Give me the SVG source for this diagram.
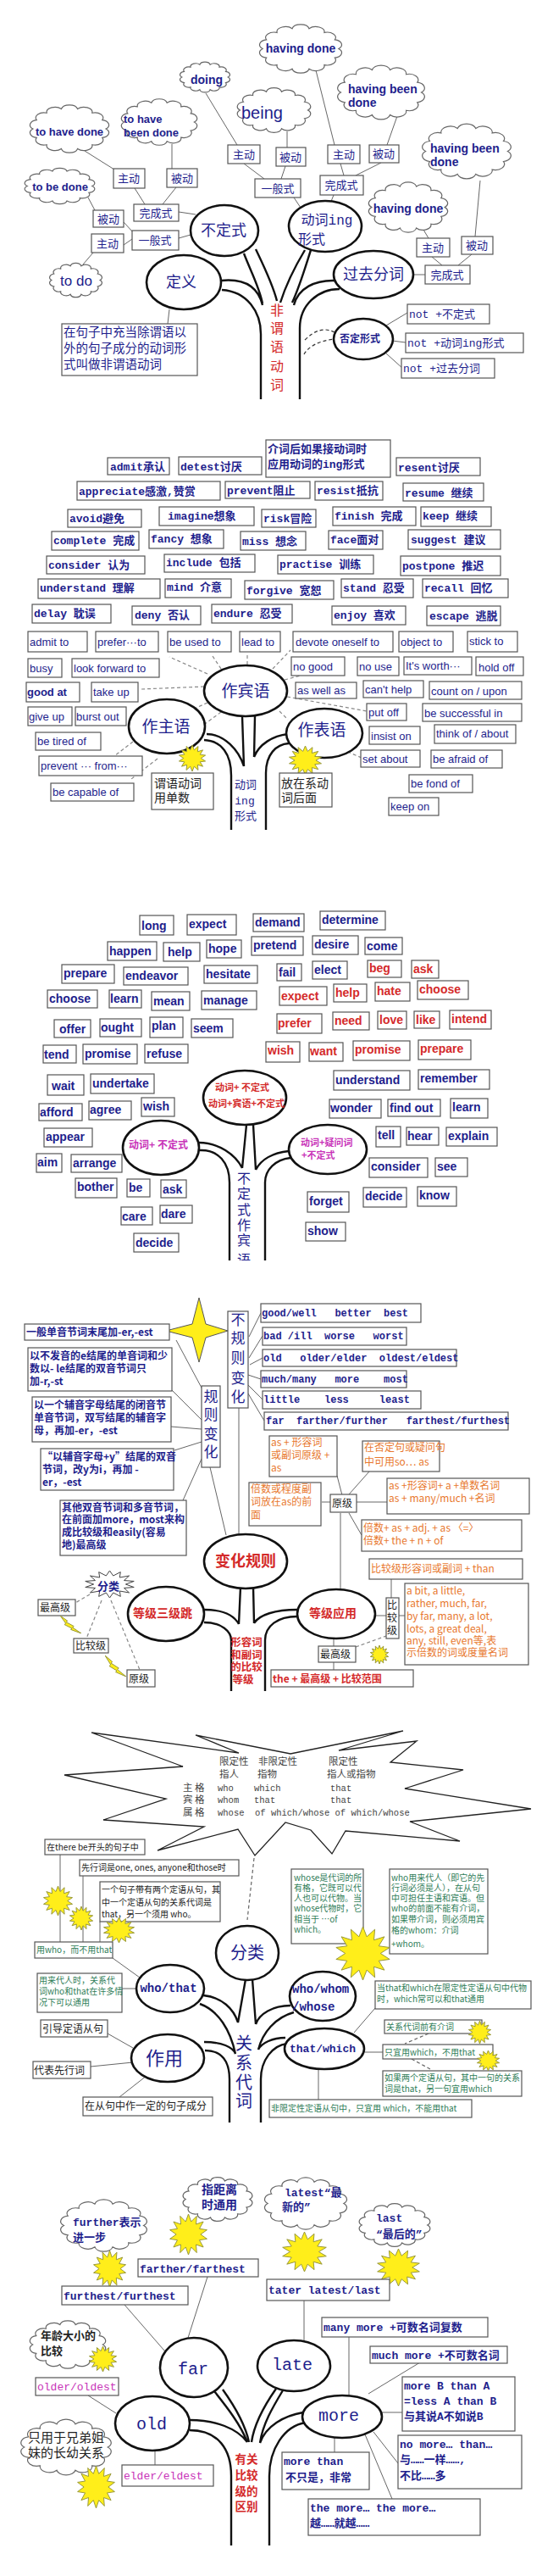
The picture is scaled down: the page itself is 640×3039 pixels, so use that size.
<svg xmlns="http://www.w3.org/2000/svg" xmlns:xlink="http://www.w3.org/1999/xlink" width="640" height="3039" viewBox="0 0 640 3039">
<style>
.bg{fill:#fff}
.bx{fill:#fff;stroke:#555;stroke-width:1.2}
.el{fill:#fff;stroke:#111;stroke-width:2.6}
.tr{fill:none;stroke:#111;stroke-width:2.4}
.ln{fill:none;stroke:#666;stroke-width:1}
.dl{fill:none;stroke:#888;stroke-width:1.2;stroke-dasharray:4 3}
.cl{fill:#fff;stroke:#666;stroke-width:1.2}
.bu{fill:#ffee1a;stroke:#99993a;stroke-width:1}
.wb{fill:#fff;stroke:#444;stroke-width:1}
text{white-space:pre}
.a{font-family:"Liberation Sans",Arial,"Noto Sans CJK SC",sans-serif}
.m{font-family:"Liberation Mono","Noto Sans CJK SC",monospace}
.c{font-family:"Noto Sans CJK SC",sans-serif}
.b{font-weight:bold}
.nv{fill:#1e1e8c}
.rd{fill:#d42a2a}
.or{fill:#e8782e}
.mg{fill:#c833b8}
.gr{fill:#2f7d58}
.bk{fill:#222}
.gy{fill:#444}
.mid{text-anchor:middle}
</style>
<defs>
<symbol id="cloud" viewBox="0 0 100 100" preserveAspectRatio="none">
<path vector-effect="non-scaling-stroke" d="M6,50 A10,10 0 0 1 10.4,32.6 A10,10 0 0 1 22.6,18.7 A10,10 0 0 1 40.2,11 A10,10 0 0 1 59.8,11 A10,10 0 0 1 77.4,18.7 A10,10 0 0 1 89.6,32.6 A10,10 0 0 1 94,50 A10,10 0 0 1 89.6,67.4 A10,10 0 0 1 77.4,81.3 A10,10 0 0 1 59.8,89 A10,10 0 0 1 40.2,89 A10,10 0 0 1 22.6,81.3 A10,10 0 0 1 10.4,67.4 A10,10 0 0 1 6,50 Z"/>
</symbol>
<symbol id="burst" viewBox="0 0 100 100" preserveAspectRatio="none">
<polygon vector-effect="non-scaling-stroke" points="50,0 57.1,18.8 71.7,5 70,25 89.1,18.8 78.8,36.1 98.7,38.9 82,50 98.7,61.1 78.8,63.9 89.1,81.2 70,75 71.7,95 57.1,81.2 50,100 42.9,81.2 28.3,95 30,75 10.9,81.2 21.2,63.9 1.3,61.1 18,50 1.3,38.9 21.2,36.1 10.9,18.8 30,25 28.3,5 42.9,18.8"/>
</symbol>
<symbol id="bolt" viewBox="0 0 100 100" preserveAspectRatio="none">
<polygon vector-effect="non-scaling-stroke" points="0,0 35,30 28,36 65,60 58,66 100,100 50,78 56,72 20,50 27,44"/>
</symbol>
<clipPath id="clip3"><rect x="260" y="1380" width="60" height="107"/></clipPath>
</defs>
<rect class="bg" x="0" y="0" width="640" height="3039"/>

<!-- ============ SECTION 1 ============ -->
<g id="s1-connectors">
<path class="ln" d="M373,83 L395,171 M402,193 L406,207 M469,137 L457,171 M450,192 L420,207 M243,110 L280,171 M339,155 L339,174 M288,193 L312,211 M337,196 L332,211 M347,233 L355,245 M394,230 L390,240 M100,178 L135,200 M203,170 L203,199 M159,222 L171,241 M208,221 L192,241 M211,250 L231,253 M104,233 L112,248 M146,262 L157,274 M146,289 L156,282 M211,281 L225,277 M110,298 L98,312 M500,271 L506,281 M567,213 L561,279 M510,303 L522,313 M557,300 L541,313 M502,324 L488,324 M200,365 L198,382 M456,384 L481,369 M463,402 L479,404 M456,417 L476,435"/>
<path class="tr" d="M308,471 L308,394 C308,368 292,344 262,342 M261,331 C290,328 305,340 310,360 M288,299 C296,320 306,338 310,358 M302,294 C312,315 322,335 327,355 M360,295 C348,315 338,335 331,357 M368,292 C362,310 355,335 345,357 M396,331 C372,330 352,340 347,360 M401,341 C375,341 354,360 354,387 L354,471"/>
<path class="dl" d="M360,401 Q378,383 395,392 M359,418 Q368,403 395,400" style="stroke:#333"/>
</g>
<g id="s1-clouds">
<use href="#cloud" class="cl" x="304" y="27" width="102" height="61"/>
<text class="a b nv mid" x="355" y="62" font-size="14">having done</text>
<use href="#cloud" class="cl" x="396" y="75" width="108" height="68"/>
<text class="a b nv" x="411" y="110" font-size="14">having been</text>
<text class="a b nv" x="411" y="126" font-size="14">done</text>
<use href="#cloud" class="cl" x="211" y="72" width="62" height="38"/>
<text class="a b nv mid" x="244" y="99" font-size="14">doing</text>
<use href="#cloud" class="cl" x="278" y="102" width="91" height="56"/>
<text class="a nv" x="285" y="140" font-size="20">being</text>
<use href="#cloud" class="cl" x="33" y="122" width="98" height="60"/>
<text class="a b nv mid" x="82" y="160" font-size="13">to have done</text>
<use href="#cloud" class="cl" x="141" y="115" width="94" height="58"/>
<text class="a b nv" x="146" y="145" font-size="13">to have</text>
<text class="a b nv" x="146" y="161" font-size="13">been done</text>
<use href="#cloud" class="cl" x="27" y="197" width="87" height="45"/>
<text class="a b nv mid" x="71" y="225" font-size="13">to be done</text>
<use href="#cloud" class="cl" x="57" y="309" width="65" height="43"/>
<text class="a nv mid" x="90" y="337" font-size="17">to do</text>
<use href="#cloud" class="cl" x="496" y="144" width="110" height="69"/>
<text class="a b nv" x="508" y="180" font-size="14">having been</text>
<text class="a b nv" x="508" y="196" font-size="14">done</text>
<use href="#cloud" class="cl" x="433" y="213" width="98" height="63"/>
<text class="a b nv mid" x="482" y="251" font-size="14">having done</text>
</g>
<g id="s1-boxes" class="c nv" font-size="13">
<rect class="bx" x="269" y="171" width="38" height="22"/><text class="mid" x="288" y="187">主动</text>
<rect class="bx" x="326" y="174" width="35" height="22"/><text class="mid" x="343" y="190">被动</text>
<rect class="bx" x="301" y="211" width="54" height="22"/><text class="mid" x="328" y="227">一般式</text>
<rect class="bx" x="387" y="171" width="38" height="22"/><text class="mid" x="406" y="187">主动</text>
<rect class="bx" x="436" y="171" width="35" height="21"/><text class="mid" x="453" y="186">被动</text>
<rect class="bx" x="378" y="207" width="51" height="23"/><text class="mid" x="403" y="223">完成式</text>
<rect class="bx" x="134" y="199" width="37" height="23"/><text class="mid" x="152" y="215">主动</text>
<rect class="bx" x="197" y="199" width="36" height="22"/><text class="mid" x="215" y="215">被动</text>
<rect class="bx" x="158" y="241" width="53" height="20"/><text class="mid" x="184" y="256">完成式</text>
<rect class="bx" x="110" y="248" width="36" height="20"/><text class="mid" x="128" y="263">被动</text>
<rect class="bx" x="108" y="276" width="38" height="22"/><text class="mid" x="127" y="292">主动</text>
<rect class="bx" x="156" y="272" width="55" height="23"/><text class="mid" x="183" y="288">一般式</text>
<rect class="bx" x="492" y="281" width="39" height="22"/><text class="mid" x="511" y="297">主动</text>
<rect class="bx" x="545" y="279" width="37" height="21"/><text class="mid" x="563" y="294">被动</text>
<rect class="bx" x="502" y="313" width="53" height="22"/><text class="mid" x="528" y="329">完成式</text>
</g>
<g id="s1-nodes">
<g id="n-budingshi"><ellipse class="el" cx="265" cy="272" rx="40" ry="30"/><text class="c nv mid" x="264" y="278" font-size="18">不定式</text></g>
<g id="n-ing"><ellipse class="el" cx="384" cy="267" rx="43" ry="30"/><text class="m nv mid" x="386" y="265" font-size="16">动词ing</text><text class="c nv" x="352" y="288" font-size="16">形式</text></g>
<g id="n-dingyi"><ellipse class="el" cx="217" cy="333" rx="44" ry="32"/><text class="c nv mid" x="214" y="339" font-size="18">定义</text></g>
<g id="n-guoqu"><ellipse class="el" cx="441" cy="324" rx="47" ry="28"/><text class="c nv mid" x="441" y="330" font-size="18">过去分词</text></g>
<g id="n-fouding"><ellipse class="el" cx="429" cy="400" rx="35" ry="24"/><text class="c b nv mid" x="425" y="404" font-size="12">否定形式</text></g>
<g id="n-def"><rect class="bx" x="73" y="382" width="160" height="61"/>
<text class="c nv" x="75" y="397" font-size="14.5">在句子中充当除谓语以</text>
<text class="c nv" x="75" y="416" font-size="14.5">外的句子成分的动词形</text>
<text class="c nv" x="75" y="435" font-size="14.5">式叫做非谓语动词</text></g>
<g id="n-not" class="m nv" font-size="13">
<rect class="bx" x="481" y="359" width="97" height="23"/><text x="483" y="375">not +不定式</text>
<rect class="bx" x="479" y="393" width="139" height="23"/><text x="481" y="409">not +动词ing形式</text>
<rect class="bx" x="474" y="423" width="110" height="23"/><text x="476" y="439">not +过去分词</text>
</g>
<g id="t-fwy" class="c rd mid" font-size="16">
<text x="327" y="372">非</text><text x="327" y="393">谓</text><text x="327" y="415">语</text><text x="327" y="438">动</text><text x="327" y="460">词</text>
</g>
</g>

<!-- ============ SECTION 2 ============ -->
<g id="s2-connectors">
<path class="dl" d="M245,795 L200,775 M261,789 L251,774 M292,784 L292,770 M322,789 L343,767 M336,802 L355,797 M241,810 L167,813 M339,822 L433,839 M245,829 L212,844 M261,840 L227,865 M157,875 L135,892 M186,895 L155,919 M330,839 L340,849 M404,884 L427,894"/>
<path class="tr" d="M273,979 L273,915 C273,890 262,874 241,873 M244,866 C265,866 282,885 288,904 M286,845 L288,904 M301,845 L300,893 M300,893 C306,878 322,868 340,866 M314,979 L314,912 C314,890 326,878 341,877"/>
</g>
<g id="s2-list1" class="m b nv" font-size="13">
<rect class="bx" x="127" y="540" width="73" height="20"/><text x="130" y="555">admit承认</text>
<rect class="bx" x="211" y="539" width="98" height="21"/><text x="213" y="555">detest讨厌</text>
<rect class="bx" x="314" y="519" width="147" height="44"/><text x="316" y="534">介词后如果接动词时</text><text x="316" y="552">应用动词的ing形式</text>
<rect class="bx" x="468" y="540" width="99" height="21"/><text x="470" y="556">resent讨厌</text>
<rect class="bx" x="91" y="568" width="169" height="22"/><text x="93" y="584">appreciate感激,赞赏</text>
<rect class="bx" x="266" y="568" width="100" height="20"/><text x="268" y="583">prevent阻止</text>
<rect class="bx" x="372" y="568" width="80" height="22"/><text x="374" y="583">resist抵抗</text>
<rect class="bx" x="476" y="570" width="95" height="21"/><text x="478" y="586">resume 继续</text>
<rect class="bx" x="80" y="601" width="87" height="21"/><text x="82" y="616">avoid避免</text>
<rect class="bx" x="188" y="598" width="112" height="22"/><text x="198" y="613">imagine想象</text>
<rect class="bx" x="309" y="601" width="64" height="21"/><text x="311" y="616">risk冒险</text>
<rect class="bx" x="393" y="598" width="98" height="22"/><text x="395" y="613">finish 完成</text>
<rect class="bx" x="497" y="598" width="83" height="23"/><text x="499" y="613">keep 继续</text>
<rect class="bx" x="61" y="627" width="103" height="22"/><text x="63" y="642">complete 完成</text>
<rect class="bx" x="176" y="625" width="88" height="22"/><text x="178" y="640">fancy 想象</text>
<rect class="bx" x="284" y="627" width="77" height="22"/><text x="286" y="643">miss 想念</text>
<rect class="bx" x="388" y="626" width="64" height="22"/><text x="390" y="641">face面对</text>
<rect class="bx" x="482" y="625" width="109" height="23"/><text x="485" y="641">suggest 建议</text>
<rect class="bx" x="55" y="656" width="116" height="21"/><text x="57" y="671">consider 认为</text>
<rect class="bx" x="194" y="654" width="107" height="21"/><text x="196" y="668">include 包括</text>
<rect class="bx" x="328" y="655" width="113" height="22"/><text x="330" y="670">practise 训练</text>
<rect class="bx" x="473" y="656" width="118" height="23"/><text x="475" y="672">postpone 推迟</text>
<rect class="bx" x="45" y="683" width="144" height="23"/><text x="47" y="698">understand 理解</text>
<rect class="bx" x="195" y="683" width="78" height="22"/><text x="197" y="697">mind 介意</text>
<rect class="bx" x="289" y="685" width="105" height="22"/><text x="291" y="701">forgive 宽恕</text>
<rect class="bx" x="403" y="683" width="85" height="22"/><text x="405" y="698">stand 忍受</text>
<rect class="bx" x="499" y="683" width="101" height="22"/><text x="501" y="698">recall 回忆</text>
<rect class="bx" x="38" y="713" width="93" height="22"/><text x="40" y="728">delay 耽误</text>
<rect class="bx" x="156" y="715" width="81" height="22"/><text x="159" y="730">deny 否认</text>
<rect class="bx" x="250" y="713" width="95" height="22"/><text x="252" y="728">endure 忍受</text>
<rect class="bx" x="392" y="715" width="87" height="22"/><text x="394" y="730">enjoy 喜欢</text>
<rect class="bx" x="504" y="715" width="87" height="23"/><text x="507" y="731">escape 逃脱</text>
</g>
<g id="s2-list2" class="a nv" font-size="13">
<rect class="bx" x="33" y="745" width="70" height="24"/><text x="35" y="762">admit to</text>
<rect class="bx" x="113" y="745" width="74" height="24"/><text x="115" y="762">prefer···to</text>
<rect class="bx" x="198" y="745" width="75" height="24"/><text x="200" y="762">be used to</text>
<rect class="bx" x="283" y="745" width="48" height="24"/><text x="285" y="762">lead to</text>
<rect class="bx" x="346" y="745" width="118" height="24"/><text x="349" y="762">devote oneself to</text>
<rect class="bx" x="471" y="745" width="64" height="24"/><text x="473" y="762">object to</text>
<rect class="bx" x="552" y="745" width="59" height="24"/><text x="554" y="761">stick to</text>
<rect class="bx" x="33" y="777" width="40" height="22"/><text x="35" y="793">busy</text>
<rect class="bx" x="85" y="777" width="103" height="22"/><text x="87" y="793">look forward to</text>
<rect class="bx" x="344" y="775" width="63" height="22"/><text x="346" y="791">no good</text>
<rect class="bx" x="422" y="775" width="49" height="22"/><text x="424" y="791">no use</text>
<rect class="bx" x="477" y="775" width="80" height="21"/><text x="479" y="790">It's worth···</text>
<rect class="bx" x="562" y="775" width="56" height="22"/><text x="565" y="792">hold off</text>
<rect class="bx" x="31" y="805" width="63" height="23"/><text class="b" x="32" y="821">good at</text>
<rect class="bx" x="108" y="805" width="55" height="23"/><text x="110" y="821">take up</text>
<rect class="bx" x="349" y="805" width="72" height="19"/><text x="351" y="819">as well as</text>
<rect class="bx" x="429" y="803" width="71" height="20"/><text x="431" y="818">can't help</text>
<rect class="bx" x="507" y="804" width="109" height="21"/><text x="509" y="820">count on / upon</text>
<rect class="bx" x="33" y="834" width="52" height="22"/><text x="34" y="850">give up</text>
<rect class="bx" x="89" y="834" width="60" height="22"/><text x="90" y="850">burst out</text>
<rect class="bx" x="433" y="830" width="47" height="20"/><text x="435" y="845">put off</text>
<rect class="bx" x="499" y="830" width="117" height="21"/><text x="501" y="846">be successful in</text>
<rect class="bx" x="42" y="864" width="77" height="21"/><text x="44" y="879">be tired of</text>
<rect class="bx" x="436" y="857" width="60" height="21"/><text x="438" y="873">insist on</text>
<rect class="bx" x="513" y="855" width="96" height="22"/><text x="515" y="870">think of / about</text>
<rect class="bx" x="46" y="892" width="122" height="23"/><text x="48" y="908">prevent ··· from···</text>
<rect class="bx" x="426" y="885" width="70" height="20"/><text x="428" y="900">set about</text>
<rect class="bx" x="509" y="885" width="84" height="21"/><text x="511" y="900">be afraid of</text>
<rect class="bx" x="60" y="924" width="98" height="21"/><text x="62" y="939">be capable of</text>
<rect class="bx" x="483" y="914" width="75" height="21"/><text x="485" y="929">be fond of</text>
<rect class="bx" x="459" y="941" width="59" height="21"/><text x="461" y="956">keep on</text>
</g>
<g id="s2-nodes">
<g id="n-zbinyu"><ellipse class="el" cx="290" cy="815" rx="49" ry="30"/><text class="c nv mid" x="290" y="822" font-size="19">作宾语</text></g>
<g id="n-zzhuyu"><ellipse class="el" cx="197" cy="857" rx="45" ry="32"/><text class="c nv mid" x="196" y="864" font-size="19">作主语</text></g>
<g id="n-zbiaoyu"><ellipse class="el" cx="383" cy="865" rx="45" ry="29"/><text class="c nv mid" x="380" y="868" font-size="19">作表语</text></g>
<use href="#burst" class="bu" x="211" y="879" width="32" height="31"/>
<use href="#burst" class="bu" x="341" y="880" width="39" height="34"/>
<g id="n-dan"><rect class="bx" x="179" y="912" width="73" height="43"/><text class="c bk" x="182" y="929" font-size="14">谓语动词</text><text class="c bk" x="182" y="946" font-size="14">用单数</text></g>
<g id="n-xi"><rect class="bx" x="330" y="912" width="62" height="40"/><text class="c bk" x="332" y="929" font-size="14">放在系动</text><text class="c bk" x="332" y="946" font-size="14">词后面</text></g>
<g id="t-dc" class="nv mid" font-size="13"><text class="c" x="290" y="930">动词</text><text class="m" x="289" y="949">ing</text><text class="c" x="290" y="967">形式</text></g>
</g>

<!-- ============ SECTION 3 ============ -->
<g id="s3-connectors">
<path class="tr" d="M271,1487 L271,1395 C271,1372 258,1356 236,1357 M235,1348 C258,1348 278,1362 286,1378 M291,1327 L286,1378 M299,1327 L302,1380 M341,1358 C322,1360 308,1368 302,1380 M343,1366 C325,1368 313,1380 313,1395 L313,1487"/>
</g>
<g id="s3-words" class="a b nv" font-size="14">
<rect class="bx" x="165" y="1080" width="40" height="23"/><text x="167" y="1097">long</text>
<rect class="bx" x="221" y="1079" width="58" height="24"/><text x="223" y="1095">expect</text>
<rect class="bx" x="299" y="1078" width="60" height="21"/><text x="301" y="1093">demand</text>
<rect class="bx" x="378" y="1075" width="77" height="22"/><text x="380" y="1090">determine</text>
<rect class="bx" x="127" y="1111" width="58" height="22"/><text x="129" y="1127">happen</text>
<rect class="bx" x="193" y="1112" width="43" height="22"/><text x="198" y="1128">help</text>
<rect class="bx" x="244" y="1109" width="41" height="21"/><text x="246" y="1124">hope</text>
<rect class="bx" x="297" y="1105" width="61" height="22"/><text x="299" y="1120">pretend</text>
<rect class="bx" x="369" y="1104" width="54" height="22"/><text x="371" y="1119">desire</text>
<rect class="bx" x="431" y="1106" width="44" height="20"/><text x="433" y="1121">come</text>
<rect class="bx" x="73" y="1138" width="62" height="22"/><text x="75" y="1153">prepare</text>
<rect class="bx" x="146" y="1141" width="76" height="21"/><text x="148" y="1156">endeavor</text>
<rect class="bx" x="241" y="1139" width="63" height="21"/><text x="243" y="1154">hesitate</text>
<rect class="bx" x="327" y="1137" width="29" height="20"/><text x="329" y="1152">fail</text>
<rect class="bx" x="369" y="1134" width="41" height="21"/><text x="371" y="1149">elect</text>
<rect class="bx" x="56" y="1168" width="59" height="21"/><text x="58" y="1183">choose</text>
<rect class="bx" x="129" y="1168" width="38" height="21"/><text x="130" y="1183">learn</text>
<rect class="bx" x="179" y="1170" width="45" height="22"/><text x="181" y="1186">mean</text>
<rect class="bx" x="238" y="1169" width="65" height="22"/><text x="240" y="1185">manage</text>
<rect class="bx" x="64" y="1203" width="43" height="21"/><text x="70" y="1219">offer</text>
<rect class="bx" x="118" y="1202" width="49" height="21"/><text x="119" y="1217">ought</text>
<rect class="bx" x="177" y="1200" width="39" height="24"/><text x="179" y="1215">plan</text>
<rect class="bx" x="226" y="1202" width="49" height="22"/><text x="228" y="1218">seem</text>
<rect class="bx" x="51" y="1233" width="39" height="21"/><text x="52" y="1249">tend</text>
<rect class="bx" x="98" y="1232" width="64" height="23"/><text x="100" y="1248">promise</text>
<rect class="bx" x="171" y="1232" width="51" height="22"/><text x="173" y="1248">refuse</text>
<rect class="bx" x="394" y="1263" width="90" height="23"/><text x="396" y="1279">understand</text>
<rect class="bx" x="494" y="1262" width="84" height="23"/><text x="496" y="1277">remember</text>
<rect class="bx" x="56" y="1268" width="43" height="24"/><text x="61" y="1286">wait</text>
<rect class="bx" x="107" y="1267" width="75" height="23"/><text x="109" y="1283">undertake</text>
<rect class="bx" x="46" y="1302" width="51" height="20"/><text x="47" y="1317">afford</text>
<rect class="bx" x="105" y="1299" width="50" height="22"/><text x="106" y="1314">agree</text>
<rect class="bx" x="167" y="1295" width="39" height="22"/><text x="169" y="1310">wish</text>
<rect class="bx" x="389" y="1297" width="61" height="22"/><text x="390" y="1312">wonder</text>
<rect class="bx" x="458" y="1297" width="62" height="20"/><text x="460" y="1312">find out</text>
<rect class="bx" x="532" y="1296" width="44" height="23"/><text x="534" y="1311">learn</text>
<rect class="bx" x="52" y="1331" width="57" height="22"/><text x="54" y="1346">appear</text>
<rect class="bx" x="444" y="1329" width="29" height="24"/><text x="446" y="1344">tell</text>
<rect class="bx" x="480" y="1330" width="38" height="21"/><text x="481" y="1345">hear</text>
<rect class="bx" x="527" y="1330" width="60" height="22"/><text x="529" y="1345">explain</text>
<rect class="bx" x="43" y="1361" width="30" height="22"/><text x="44" y="1376">aim</text>
<rect class="bx" x="84" y="1362" width="60" height="21"/><text x="86" y="1377">arrange</text>
<rect class="bx" x="436" y="1366" width="69" height="23"/><text x="438" y="1381">consider</text>
<rect class="bx" x="514" y="1366" width="38" height="22"/><text x="516" y="1381">see</text>
<rect class="bx" x="89" y="1390" width="49" height="23"/><text x="91" y="1405">bother</text>
<rect class="bx" x="150" y="1391" width="27" height="21"/><text x="152" y="1406">be</text>
<rect class="bx" x="190" y="1392" width="30" height="21"/><text x="192" y="1408">ask</text>
<rect class="bx" x="363" y="1406" width="49" height="24"/><text x="365" y="1422">forget</text>
<rect class="bx" x="429" y="1401" width="51" height="23"/><text x="431" y="1416">decide</text>
<rect class="bx" x="493" y="1400" width="46" height="23"/><text x="495" y="1415">know</text>
<rect class="bx" x="143" y="1424" width="37" height="21"/><text x="144" y="1440">care</text>
<rect class="bx" x="189" y="1422" width="38" height="21"/><text x="190" y="1437">dare</text>
<rect class="bx" x="158" y="1455" width="53" height="22"/><text x="160" y="1471">decide</text>
<rect class="bx" x="361" y="1442" width="47" height="22"/><text x="363" y="1457">show</text>
</g>
<g id="s3-words-red" class="a b rd" font-size="14">
<rect class="bx" x="434" y="1133" width="40" height="20"/><text x="436" y="1147">beg</text>
<rect class="bx" x="486" y="1133" width="32" height="21"/><text x="488" y="1148">ask</text>
<rect class="bx" x="330" y="1164" width="56" height="22"/><text x="332" y="1180">expect</text>
<rect class="bx" x="394" y="1161" width="39" height="21"/><text x="396" y="1176">help</text>
<rect class="bx" x="443" y="1159" width="41" height="22"/><text x="445" y="1174">hate</text>
<rect class="bx" x="493" y="1157" width="60" height="22"/><text x="495" y="1172">choose</text>
<rect class="bx" x="327" y="1196" width="53" height="23"/><text x="328" y="1212">prefer</text>
<rect class="bx" x="393" y="1194" width="43" height="21"/><text x="395" y="1209">need</text>
<rect class="bx" x="446" y="1193" width="34" height="21"/><text x="448" y="1208">love</text>
<rect class="bx" x="489" y="1193" width="30" height="20"/><text x="491" y="1208">like</text>
<rect class="bx" x="531" y="1192" width="49" height="22"/><text x="533" y="1207">intend</text>
<rect class="bx" x="314" y="1229" width="40" height="24"/><text x="316" y="1244">wish</text>
<rect class="bx" x="365" y="1230" width="40" height="22"/><text x="366" y="1245">want</text>
<rect class="bx" x="417" y="1228" width="67" height="23"/><text x="419" y="1243">promise</text>
<rect class="bx" x="494" y="1227" width="62" height="23"/><text x="496" y="1242">prepare</text>
</g>
<g id="s3-nodes">
<g id="n-top3"><ellipse class="el" cx="289" cy="1295" rx="49" ry="32"/><text class="c b rd mid" x="286" y="1287" font-size="11">动词+ 不定式</text><text class="c b rd mid" x="291" y="1306" font-size="11">动词+宾语+不定式</text></g>
<g id="n-left3"><ellipse class="el" cx="190" cy="1354" rx="45" ry="32"/><text class="c b mg mid" x="187" y="1355" font-size="12">动词+ 不定式</text></g>
<g id="n-right3"><ellipse class="el" cx="387" cy="1356" rx="46" ry="29"/><text class="c b mg" x="355" y="1352" font-size="11">动词+疑问词</text><text class="c b mg" x="356" y="1367" font-size="11">+不定式</text></g>
<g id="t-bds" class="c nv mid" font-size="16" clip-path="url(#clip3)">
<text x="288" y="1396">不</text><text x="288" y="1414">定</text><text x="288" y="1433">式</text><text x="288" y="1451">作</text><text x="288" y="1469">宾</text><text x="288" y="1492">语</text>
</g>
</g>

<!-- ============ SECTION 4 ============ -->
<g id="s4-connectors">
<path class="ln" d="M208,1581 L239,1639 M202,1639 L239,1676 M202,1683 L238,1686 M206,1711 L238,1701 M216,1770 L238,1721 M248,1731 L267,1811 M282,1661 L282,1810 M294,1577 L308,1549 M294,1602 L310,1576 M295,1610 L310,1602 M293,1622 L308,1627 M293,1634 L310,1651 M293,1644 L312,1676 M404,1764 L398,1741 M412,1763 L436,1736 M380,1772 L390,1772 M421,1772 L457,1772 M412,1785 L427,1811 M402,1785 L402,1875 M462,1885 L462,1863 M443,1906 L456,1906 M471,1906 L478,1906 M394,1931 L394,1942 M394,1961 L394,1971"/>
<path class="dl" d="M420,1943 L456,1930 M106,1881 L89,1891 M120,1888 L102,1933 M131,1888 L165,1970"/>
<path class="tr" d="M284,1872 L282,1916 M299,1872 L300,1915 M241,1899 C262,1899 276,1905 282,1916 M241,1914 C262,1914 273,1925 273,1935 L273,1995 M351,1899 C325,1899 306,1905 300,1915 M351,1907 C328,1907 313,1918 313,1935 L313,1995"/>
</g>
<g id="s4-nodes">
<polygon class="bu" points="235,1531 243,1562 269,1570 243,1578 235,1607 227,1578 196,1570 227,1562" style="stroke:#555"/>
<g class="c b nv" font-size="12">
<rect class="bx" x="29" y="1562" width="171" height="19"/><text x="31" y="1576">一般单音节词末尾加-er,-est</text>
<rect class="bx" x="33" y="1590" width="170" height="51"/><text x="35" y="1604">以不发音的e结尾的单音词和少</text><text x="35" y="1619">数以- le结尾的双音节词只</text><text x="35" y="1634">加-r,-st</text>
<rect class="bx" x="38" y="1648" width="164" height="53"/><text x="40" y="1662">以一个辅音字母结尾的闭音节</text><text x="40" y="1677">单音节词，双写结尾的辅音字</text><text x="40" y="1692">母，再加-er，-est</text>
<rect class="bx" x="48" y="1709" width="157" height="49"/><text x="50" y="1723">“以辅音字母+y”结尾的双音</text><text x="50" y="1738">节词，改y为i，再加 -</text><text x="50" y="1753">er，-est</text>
<rect class="bx" x="71" y="1770" width="149" height="65"/><text x="73" y="1783">其他双音节词和多音节词，</text><text x="73" y="1797">在前面加more，most来构</text><text x="73" y="1812">成比较级和easily(容易</text><text x="73" y="1827">地)最高级</text>
</g>
<g id="n-guize"><rect class="bx" x="238" y="1635" width="22" height="96"/><text class="c nv mid" font-size="17"><tspan x="249" y="1654">规</tspan><tspan x="249" y="1675">则</tspan><tspan x="249" y="1698">变</tspan><tspan x="249" y="1719">化</tspan></text></g>
<g id="n-buguize"><rect class="bx" x="269" y="1547" width="24" height="114"/><text class="c nv mid" font-size="17"><tspan x="281" y="1563">不</tspan><tspan x="281" y="1585">规</tspan><tspan x="281" y="1608">则</tspan><tspan x="281" y="1632">变</tspan><tspan x="281" y="1654">化</tspan></text></g>
<g class="m b nv" font-size="12">
<rect class="bx" x="308" y="1538" width="189" height="22"/><text x="309" y="1553">good/well   better  best</text>
<rect class="bx" x="310" y="1566" width="170" height="21"/><text x="311" y="1580">bad /ill  worse   worst</text>
<rect class="bx" x="310" y="1592" width="229" height="20"/><text x="311" y="1606">old   older/elder  oldest/eldest</text>
<rect class="bx" x="308" y="1617" width="172" height="20"/><text x="309" y="1631">much/many   more    most</text>
<rect class="bx" x="310" y="1641" width="187" height="21"/><text x="311" y="1655">little    less     least</text>
<rect class="bx" x="312" y="1666" width="288" height="21"/><text x="314" y="1680">far  farther/further   farthest/furthest</text>
</g>
<g class="c or" font-size="12">
<rect class="bx" x="318" y="1694" width="80" height="48"/><text x="320" y="1706">as + 形容词</text><text x="320" y="1721">或副词原级 +</text><text x="320" y="1736">as</text>
<rect class="bx" x="428" y="1700" width="91" height="36"/><text x="430" y="1712">在否定句或疑问句</text><text x="430" y="1729">中可用so… as</text>
<rect class="bx" x="294" y="1749" width="85" height="51"/><text x="296" y="1761">倍数或程度副</text><text x="296" y="1776">词放在as的前</text><text x="296" y="1792">面</text>
<rect class="bx" x="457" y="1744" width="168" height="42"/><text x="459" y="1757">as +形容词+ a +单数名词</text><text x="459" y="1772">as + many/much +名词</text>
<rect class="bx" x="427" y="1793" width="189" height="37"/><text x="429" y="1807">倍数+ as + adj. + as 〈=〉</text><text x="429" y="1822">倍数+ the + n + of</text>
<rect class="bx" x="436" y="1839" width="181" height="24"/><text x="438" y="1855">比较级形容词或副词 + than</text>
<rect class="bx" x="478" y="1868" width="146" height="96"/><text x="480" y="1881">a bit, a little,</text><text x="480" y="1896">rather, much, far,</text><text x="480" y="1911">by far, many, a lot,</text><text x="480" y="1926">lots, a great deal,</text><text x="480" y="1940">any, still, even等,表</text><text x="480" y="1954">示倍数的词或度量名词</text>
</g>
<g class="c bk" font-size="12">
<rect class="bx" x="390" y="1763" width="31" height="21"/><text x="392" y="1778">原级</text>
<rect class="bx" x="456" y="1885" width="15" height="48"/><text class="mid"><tspan x="463" y="1898">比</tspan><tspan x="463" y="1913">较</tspan><tspan x="463" y="1928">级</tspan></text>
<rect class="bx" x="376" y="1942" width="44" height="19"/><text x="378" y="1956">最高级</text>
<rect class="bx" x="45" y="1887" width="44" height="19"/><text x="47" y="1901">最高级</text>
<rect class="bx" x="87" y="1933" width="41" height="17"/><text x="89" y="1946">比较级</text>
<rect class="bx" x="150" y="1970" width="33" height="20"/><text x="152" y="1985">原级</text>
</g>
<rect class="bx" x="320" y="1970" width="168" height="20"/><text class="c b rd" x="322" y="1985" font-size="12">the + 最高级 + 比较范围</text>
<use href="#burst" class="bu" x="437" y="1941" width="22" height="22"/>
<use href="#burst" class="wb" x="100" y="1853" width="59" height="32"/>
<text class="c b nv mid" x="128" y="1876" font-size="13">分类</text>
<use href="#bolt" class="bu" x="71" y="1906" width="25" height="21"/>
<use href="#bolt" class="bu" x="124" y="1953" width="25" height="25"/>
<g id="n-bhgz"><ellipse class="el" cx="290" cy="1842" rx="49" ry="32"/><text class="c b rd mid" x="290" y="1848" font-size="18">变化规则</text></g>
<g id="n-djsjt"><ellipse class="el" cx="196" cy="1904" rx="45" ry="32"/><text class="c b rd mid" x="192" y="1908" font-size="14">等级三级跳</text></g>
<g id="n-djyy"><ellipse class="el" cx="397" cy="1904" rx="46" ry="29"/><text class="c b rd mid" x="393" y="1908" font-size="14">等级应用</text></g>
<g id="t-xrc" class="c b rd mid" font-size="12.5"><text x="291" y="1942">形容词</text><text x="291" y="1957">和副词</text><text x="291" y="1971">的比较</text><text x="287" y="1986">等级</text></g>
</g>

<!-- ============ SECTION 5 ============ -->
<g id="s5-connectors">
<path class="dl" d="M300,2192 L292,2265 M486,2429 L508,2441 M506,2399 L478,2411" style="stroke:#666"/>
<path class="ln" d="M71,2188 L71,2291 M98,2213 L98,2291 M118,2267 L118,2291 M133,2310 L165,2333 M144,2346 L160,2346 M418,2398 L443,2369 M431,2421 L452,2421 M376,2441 L376,2477 M127,2399 L157,2416 M107,2438 L157,2433 M141,2474 L178,2445"/>
<path class="tr" d="M290,2335 L281,2386 M298,2335 L302,2388 M240,2354 C262,2356 276,2370 281,2386 M236,2364 C258,2372 272,2395 278,2423 M241,2409 C262,2409 275,2415 278,2423 M242,2419 C262,2419 271,2432 271,2453 L271,2504 M343,2366 C322,2366 306,2376 302,2388 M347,2374 C325,2380 310,2398 305,2418 M337,2404 C322,2404 309,2410 305,2418 M339,2411 C322,2413 308,2430 308,2453 L308,2504"/>
</g>
<g id="s5-star">
<polygon fill="#fff" stroke="#222" stroke-width="1.3" points="108,2044 282,2068 231,2047 343,2069 476,2042 400,2065 492,2054 461,2079 547,2088 478,2110 627,2134 484,2149 543,2172 408,2160 392,2187 367,2159 337,2150 301,2189 281,2158 186,2183 241,2155 122,2147 196,2122 76,2094 216,2084"/>
<g class="c gy" font-size="11.5">
<text x="259" y="2082">限定性</text><text x="305" y="2082">非限定性</text><text x="388" y="2082">限定性</text>
<text x="259" y="2097">指人</text><text x="304" y="2097">指物</text><text x="386" y="2097">指人或指物</text>
<text x="216" y="2113">主 格</text><text x="216" y="2127">宾 格</text><text x="216" y="2142">属 格</text>
</g>
<g class="m gy" font-size="10.5">
<text x="257" y="2113">who</text><text x="300" y="2113">which</text><text x="390" y="2113">that</text>
<text x="257" y="2127">whom</text><text x="300" y="2127">that</text><text x="390" y="2127">that</text>
<text x="257" y="2142">whose</text><text x="301" y="2142">of which/whose of which/whose</text>
</g>
</g>
<g id="s5-boxes">
<g class="c bk" font-size="10">
<rect class="bx" x="53" y="2170" width="118" height="18"/><text x="55" y="2183">在there be开头的句子中</text>
<rect class="bx" x="94" y="2194" width="188" height="19"/><text x="96" y="2207">先行词是one, ones, anyone和those时</text>
<rect class="bx" x="118" y="2220" width="142" height="47"/><text x="120" y="2233">一个句子带有两个定语从句，其</text><text x="120" y="2248">中一个定语从句的关系代词是</text><text x="120" y="2262">that，另一个须用 who。</text>
</g>
<use href="#burst" class="bu" x="51" y="2225" width="35" height="35"/>
<use href="#burst" class="bu" x="82" y="2249" width="28" height="28"/>
<use href="#burst" class="bu" x="122" y="2262" width="37" height="30"/>
<g class="c gr" font-size="10">
<rect class="bx" x="344" y="2205" width="85" height="88"/><text x="347" y="2219">whose是代词的所</text><text x="347" y="2231">有格，它既可以代</text><text x="347" y="2243">人也可以代物。当</text><text x="347" y="2255">whose代物时，它</text><text x="347" y="2268">相当于 …of</text><text x="347" y="2280">which。</text>
<rect class="bx" x="460" y="2205" width="116" height="100"/><text x="462" y="2219">who用来代人（即它的先</text><text x="462" y="2231">行词必须是人），在从句</text><text x="462" y="2243">中可担任主语和宾语。但</text><text x="462" y="2255">who的前面不能有介词，</text><text x="462" y="2268">如果带介词，则必须用宾</text><text x="462" y="2281">格的whom：介词</text><text x="462" y="2297">+whom。</text>
<rect class="bx" x="41" y="2291" width="92" height="19"/><text x="43" y="2304">用who，而不用that</text>
<rect class="bx" x="44" y="2328" width="100" height="46"/><text x="46" y="2340">用来代人时，关系代</text><text x="46" y="2353">词who和that在许多情</text><text x="46" y="2366">况下可以通用</text>
<rect class="bx" x="443" y="2337" width="184" height="33"/><text x="445" y="2349">当that和which在限定性定语从句中代物</text><text x="445" y="2362">时，which常可以和that通用</text>
<rect class="bx" x="454" y="2383" width="115" height="16"/><text x="456" y="2395">关系代词前有介词</text>
<rect class="bx" x="452" y="2412" width="130" height="17"/><text x="454" y="2425">只宜用which，不用that</text>
<rect class="bx" x="452" y="2443" width="164" height="30"/><text x="454" y="2455">如果两个定语从句，其中一句的关系</text><text x="454" y="2468">词是that，另一句宜用which</text>
<rect class="bx" x="318" y="2477" width="239" height="21"/><text x="320" y="2491">非限定性定语从句中，只宜用 which，不能用that</text>
</g>
<use href="#burst" class="bu" x="396" y="2273" width="65" height="63"/>
<use href="#burst" class="bu" x="553" y="2384" width="27" height="27"/>
<use href="#burst" class="bu" x="563" y="2419" width="27" height="24"/>
<g class="c bk" font-size="12">
<rect class="bx" x="48" y="2383" width="79" height="20"/><text x="50" y="2398">引导定语从句</text>
<rect class="bx" x="39" y="2432" width="68" height="20"/><text x="40" y="2447">代表先行词</text>
<rect class="bx" x="98" y="2474" width="153" height="22"/><text x="100" y="2489">在从句中作一定的句子成分</text>
</g>
</g>
<g id="s5-nodes">
<g id="n-fenlei"><ellipse class="el" cx="292" cy="2304" rx="37" ry="32"/><text class="c nv mid" x="292" y="2311" font-size="20">分类</text></g>
<g id="n-whothat"><ellipse class="el" cx="201" cy="2346" rx="40" ry="28"/><text class="m b nv mid" x="199" y="2350" font-size="14">who/that</text></g>
<g id="n-whom"><ellipse class="el" cx="381" cy="2355" rx="39" ry="29"/><text class="m b nv" x="345" y="2351" font-size="14">who/whom</text><text class="m b nv" x="345" y="2372" font-size="14">/whose</text></g>
<g id="n-zuoyong"><ellipse class="el" cx="198" cy="2428" rx="43" ry="28"/><text class="c nv mid" x="194" y="2436" font-size="22">作用</text></g>
<g id="n-thatwhich"><ellipse class="el" cx="383" cy="2417" rx="47" ry="24"/><text class="m b nv mid" x="381" y="2421" font-size="13">that/which</text></g>
<g id="t-gxdc" class="c nv mid" font-size="20"><text x="288" y="2418">关</text><text x="288" y="2441">系</text><text x="288" y="2464">代</text><text x="288" y="2486">词</text></g>
</g>

<!-- ============ SECTION 6 ============ -->
<g id="s6-connectors">
<path class="ln" d="M147,2719 L194,2773 M245,2686 L222,2758 M359,2714 L359,2762 M412,2757 L412,2826 M496,2787 L435,2824 M104,2826 L137,2847 M183,2891 L183,2908 M451,2846 L475,2846 M441,2869 L470,2906 M395,2876 L395,2893 M431,2872 L463,2948"/>
<path class="tr" d="M253,2821 C268,2840 284,2860 292,2881 M224,2855 C255,2855 280,2865 292,2881 M224,2867 C258,2867 273,2890 273,2921 L273,3003 M263,2819 C278,2840 290,2862 294,2881 M326,2818 C312,2838 300,2860 297,2881 M334,2820 C322,2840 310,2860 307,2882 M358,2846 C335,2850 314,2862 307,2882 M361,2858 C335,2862 318,2890 318,2921 L318,3003"/>
</g>
<g id="s6-clouds">
<use href="#cloud" class="cl" x="214" y="2567" width="86" height="55"/>
<text class="c b nv mid" x="259" y="2588" font-size="14">指距离</text><text class="c b nv mid" x="259" y="2606" font-size="14">时通用</text>
<use href="#cloud" class="cl" x="310" y="2567" width="102" height="65"/>
<text class="m b nv" x="336" y="2591" font-size="13">latest“最</text><text class="m b nv" x="333" y="2608" font-size="13">新的”</text>
<use href="#cloud" class="cl" x="69" y="2593" width="107" height="65"/>
<text class="m b nv" x="86" y="2626" font-size="13">further表示</text><text class="m b nv" x="86" y="2644" font-size="13">进一步</text>
<use href="#cloud" class="cl" x="422" y="2598" width="88" height="54"/>
<text class="m b nv" x="444" y="2621" font-size="13">last</text><text class="m b nv" x="444" y="2640" font-size="13">“最后的”</text>
<use href="#cloud" class="cl" x="33" y="2736" width="94" height="60"/>
<text class="c b bk" x="48" y="2760" font-size="13">年龄大小的</text><text class="c b bk" x="48" y="2778" font-size="13">比较</text>
<use href="#cloud" class="cl" x="22" y="2852" width="112" height="70"/>
<text class="c bk mid" x="78" y="2881" font-size="15">只用于兄弟姐</text><text class="c bk mid" x="78" y="2899" font-size="15">妹的长幼关系</text>
<use href="#burst" class="bu" x="200" y="2612" width="45" height="48"/>
<use href="#burst" class="bu" x="333" y="2633" width="53" height="47"/>
<use href="#burst" class="bu" x="110" y="2655" width="39" height="43"/>
<use href="#burst" class="bu" x="445" y="2653" width="51" height="44"/>
<use href="#burst" class="bu" x="105" y="2768" width="33" height="30"/>
<use href="#burst" class="bu" x="91" y="2909" width="45" height="50"/>
</g>
<g id="s6-boxes" class="m b nv" font-size="13">
<rect class="bx" x="163" y="2665" width="142" height="21"/><text x="165" y="2681">farther/farthest</text>
<rect class="bx" x="73" y="2697" width="149" height="22"/><text x="75" y="2713">furthest/furthest</text>
<rect class="bx" x="315" y="2689" width="145" height="25"/><text x="317" y="2706">tater latest/last</text>
<rect class="bx" x="380" y="2734" width="196" height="23"/><text x="382" y="2750">many more +可数名词复数</text>
<rect class="bx" x="437" y="2768" width="162" height="20"/><text x="439" y="2783">much more +不可数名词</text>
<rect class="bx" x="42" y="2805" width="98" height="21"/><text class="mg" x="44" y="2820" style="font-weight:normal">older/oldest</text>
<rect class="bx" x="144" y="2908" width="108" height="25"/><text class="mg" x="146" y="2925" style="font-weight:normal">elder/eldest</text>
<rect class="bx" x="475" y="2804" width="133" height="64"/><text x="477" y="2819">more B than A</text><text x="477" y="2837">=less A than B</text><text x="477" y="2855">与其说A不如说B</text>
<rect class="bx" x="470" y="2873" width="146" height="63"/><text x="472" y="2888">no more… than…</text><text x="472" y="2906">与……一样……,</text><text x="472" y="2925">不比……多</text>
<rect class="bx" x="333" y="2893" width="103" height="44"/><text x="335" y="2908">more than</text><text x="337" y="2927">不只是，非常</text>
<rect class="bx" x="364" y="2948" width="203" height="43"/><text x="366" y="2963">the more… the more…</text><text x="366" y="2981">越……就越……</text>
</g>
<g id="s6-nodes">
<g id="n-far"><ellipse class="el" cx="229" cy="2793" rx="40" ry="35"/><text class="m nv mid" x="228" y="2801" font-size="20">far</text></g>
<g id="n-late"><ellipse class="el" cx="347" cy="2791" rx="43" ry="30"/><text class="m nv mid" x="345" y="2796" font-size="20">late</text></g>
<g id="n-old"><ellipse class="el" cx="180" cy="2859" rx="44" ry="32"/><text class="m nv mid" x="179" y="2866" font-size="20">old</text></g>
<g id="n-more"><ellipse class="el" cx="404" cy="2851" rx="47" ry="25"/><text class="m nv mid" x="400" y="2856" font-size="20">more</text></g>
<g id="t-ygbj" class="c b rd mid" font-size="13.5"><text x="291" y="2906">有关</text><text x="291" y="2925">比较</text><text x="291" y="2944">级的</text><text x="291" y="2962">区别</text></g>
</g>
</svg>
